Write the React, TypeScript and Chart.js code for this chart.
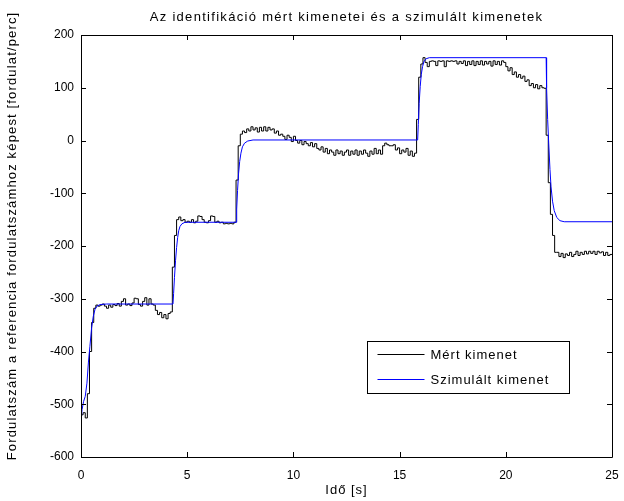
import React, { useEffect, useRef } from "react";
import { Chart, registerables } from "chart.js";

Chart.register(...registerables);

const TITLE = "Az identifikáció mért kimenetei és a szimulált kimenetek";
const X_TITLE = "Idő [s]";
const Y_TITLE = "Fordulatszám a referencia fordulatszámhoz képest [fordulat/perc]";
const LEGEND_LABELS = ["Mért kimenet", "Szimulált kimenet"];
const SERIES_COLORS = ["#000000", "#0000ff"];

const X_MIN = 0;
const X_MAX = 25;
const X_STEP = 5;
const Y_MIN = -600;
const Y_MAX = 200;
const Y_STEP = 100;

// Measured output, sampled every 0.1 s from t = 0
const MEAS_DT = 0.1;
const measuredValues = [
  -512, -520, -516, -526, -480, -400, -345, -318, -312, -314,
  -312, -310, -314, -318, -312, -316, -311, -313, -309, -314,
  -305, -300, -312, -310, -313, -308, -299, -300, -311, -314,
  -305, -298, -312, -300, -310, -312, -322, -330, -326, -336,
  -330, -338, -328, -325, -240, -180, -150, -145, -152, -150,
  -155, -153, -155, -150, -156, -153, -143, -144, -150, -155,
  -156, -152, -143, -144, -155, -153, -156, -155, -158, -157,
  -158, -157, -158, -155, -75, -10, 12, 18, 15, 22,
  18, 26, 20, 24, 16, 25, 18, 26, 18, 25,
  20, 22, 14, 18, 10, 12, 8, 2, 10, 6,
  -2, 8, 0, -5, 0, -8, -2, -6, -10, -4,
  -12, -6, -15, -18, -12, -22, -15, -25, -18, -22,
  -28, -18, -25, -20, -28, -22, -18, -28, -20, -26,
  -18, -28, -20, -26, -18, -24, -30, -20, -26, -15,
  -25, -18, -26, -10, -5, -8, -10, -10, -8, -18,
  -14, -25, -18, -22, -15, -28, -20, -30, -24, 40,
  120, 145, 157, 148, 140, 150, 151, 150, 142, 151,
  150, 151, 140, 151, 150, 151, 150, 151, 145, 150,
  146, 151, 142, 150, 144, 151, 142, 150, 144, 151,
  143, 150, 145, 150, 141, 151, 144, 150, 143, 151,
  148, 140, 132, 138, 125, 130, 120, 125, 118, 122,
  112, 115, 104, 108, 100, 106, 98, 104, 100, 99,
  10, -80, -140, -180, -212, -212, -220, -214, -222, -215,
  -218, -212, -220, -216, -210, -218, -212, -216, -210, -215,
  -210, -214, -210, -216, -210, -213, -211, -218, -212, -218,
  -216,
];

// Simulated output
const simTimes = [
  0, 0.05, 0.12, 0.2, 0.28, 0.35, 0.42, 0.5, 0.58, 0.66, 0.75, 0.9, 1.2,
  4.33, 4.36, 4.4, 4.45, 4.5, 4.55, 4.6, 4.66, 4.75, 4.9,
  7.3, 7.33, 7.37, 7.42, 7.47, 7.53, 7.6, 7.7, 7.85, 8.1,
  15.85, 15.88, 15.92, 15.97, 16.02, 16.08, 16.15, 16.25, 16.4,
  21.9, 21.92, 21.97, 22.02, 22.08, 22.13, 22.2, 22.28, 22.4, 22.55, 22.75, 25,
];
const simValues = [
  -534, -510, -495, -485, -460, -420, -390, -355, -333, -320, -314, -311, -310,
  -310, -290, -260, -228, -203, -184, -171, -163, -158, -155,
  -155, -130, -95, -62, -40, -24, -12, -5, -1, 1,
  1, 30, 70, 102, 125, 140, 150, 155, 157,
  157, 100, 40, -5, -55, -88, -115, -133, -146, -152, -154, -154,
];

const FONT_FAMILY = "'Liberation Sans', Arial, sans-serif";
const TEXT_FONT = `13px ${FONT_FAMILY}`;

const matlabFrame = {
  id: "matlabFrame",
  afterDraw(chart: any) {
    const { ctx, chartArea: a, scales } = chart;
    const tl = 5;
    ctx.save();
    ctx.strokeStyle = "#000";
    ctx.lineWidth = 1;
    ctx.beginPath();
    ctx.rect(Math.round(a.left) + 0.5, Math.round(a.top) + 0.5, Math.round(a.right - a.left), Math.round(a.bottom - a.top));
    for (let v = X_MIN; v <= X_MAX; v += X_STEP) {
      const px = Math.round(scales.x.getPixelForValue(v)) + 0.5;
      ctx.moveTo(px, a.bottom);
      ctx.lineTo(px, a.bottom - tl);
      ctx.moveTo(px, a.top);
      ctx.lineTo(px, a.top + tl);
    }
    for (let v = Y_MIN; v <= Y_MAX; v += Y_STEP) {
      const py = Math.round(scales.y.getPixelForValue(v)) + 0.5;
      ctx.moveTo(a.left, py);
      ctx.lineTo(a.left + tl, py);
      ctx.moveTo(a.right, py);
      ctx.lineTo(a.right - tl, py);
    }
    ctx.stroke();

    ctx.fillStyle = "#000";
    ctx.font = TEXT_FONT;
    ctx.textBaseline = "middle";

    // title
    ctx.letterSpacing = "1.3px";
    ctx.textAlign = "center";
    ctx.fillText(TITLE, (a.left + a.right) / 2, 17);

    // x axis title
    ctx.letterSpacing = "1px";
    ctx.fillText(X_TITLE, (a.left + a.right) / 2, 490);

    // y axis title
    ctx.save();
    ctx.translate(12, 236);
    ctx.rotate(-Math.PI / 2);
    ctx.letterSpacing = "1.15px";
    ctx.fillText(Y_TITLE, 0, 0);
    ctx.restore();

    // legend
    const bx = Math.round(a.right) - 245 + 0.5;
    const by = Math.round(a.bottom) - 116 + 0.5;
    const bw = 202;
    const bh = 52;
    ctx.fillStyle = "#fff";
    ctx.fillRect(bx, by, bw, bh);
    ctx.strokeStyle = "#000";
    ctx.strokeRect(bx, by, bw, bh);
    const rows = [by + 12.5, by + 37.5];
    LEGEND_LABELS.forEach((label, i) => {
      ctx.strokeStyle = SERIES_COLORS[i];
      ctx.beginPath();
      ctx.moveTo(bx + 10, Math.round(rows[i]) + 0.5);
      ctx.lineTo(bx + 57, Math.round(rows[i]) + 0.5);
      ctx.stroke();
      ctx.fillStyle = "#000";
      ctx.textAlign = "left";
      ctx.textBaseline = "middle";
      ctx.font = TEXT_FONT;
      ctx.letterSpacing = "1px";
      ctx.fillText(label, bx + 63, rows[i] + 1);
    });
    ctx.letterSpacing = "0px";
    ctx.restore();
  },
};

export default function App() {
  const canvasRef = useRef<HTMLCanvasElement | null>(null);

  useEffect(() => {
    document.body.style.margin = "0";
    const canvas = canvasRef.current;
    if (!canvas) return;
    const measured = measuredValues.map((v, i) => ({ x: Math.round(i * MEAS_DT * 100) / 100, y: v }));
    const simulated = simTimes.map((t, i) => ({ x: t, y: simValues[i] }));
    const tickFont = { family: FONT_FAMILY, size: 12 };
    const chart = new Chart(canvas, {
      type: "line",
      data: {
        datasets: [
          {
            label: LEGEND_LABELS[1],
            data: simulated,
            borderColor: SERIES_COLORS[1],
            borderWidth: 1,
            pointRadius: 0,
            tension: 0,
          },
          {
            label: LEGEND_LABELS[0],
            data: measured,
            borderColor: SERIES_COLORS[0],
            borderWidth: 1,
            pointRadius: 0,
            tension: 0,
            stepped: "after",
          },
        ],
      },
      options: {
        responsive: false,
        animation: false,
        devicePixelRatio: 1,
        layout: { padding: { left: 0, top: 35, right: 12, bottom: 0 } },
        plugins: {
          legend: { display: false },
          tooltip: { enabled: false },
          title: { display: false },
        },
        scales: {
          x: {
            type: "linear",
            min: X_MIN,
            max: X_MAX,
            ticks: { stepSize: X_STEP, color: "#000", font: tickFont, padding: 11, maxRotation: 0 },
            grid: { display: false, drawTicks: false },
            border: { display: false },
            afterFit: (scale: any) => {
              scale.height = 44;
              scale.paddingLeft = 0;
              scale.paddingRight = 0;
            },
          },
          y: {
            type: "linear",
            min: Y_MIN,
            max: Y_MAX,
            ticks: { stepSize: Y_STEP, color: "#000", font: tickFont, padding: 7 },
            grid: { display: false, drawTicks: false },
            border: { display: false },
            afterFit: (scale: any) => {
              scale.width = 81;
              scale.paddingTop = 0;
              scale.paddingBottom = 0;
            },
          },
        },
      },
      plugins: [matlabFrame],
    });
    return () => chart.destroy();
  }, []);

  return (
    <div style={{ position: "absolute", left: 0, top: 0, width: 624, height: 501, background: "#fff" }}>
      <canvas ref={canvasRef} width={624} height={501} style={{ display: "block" }} />
    </div>
  );
}
